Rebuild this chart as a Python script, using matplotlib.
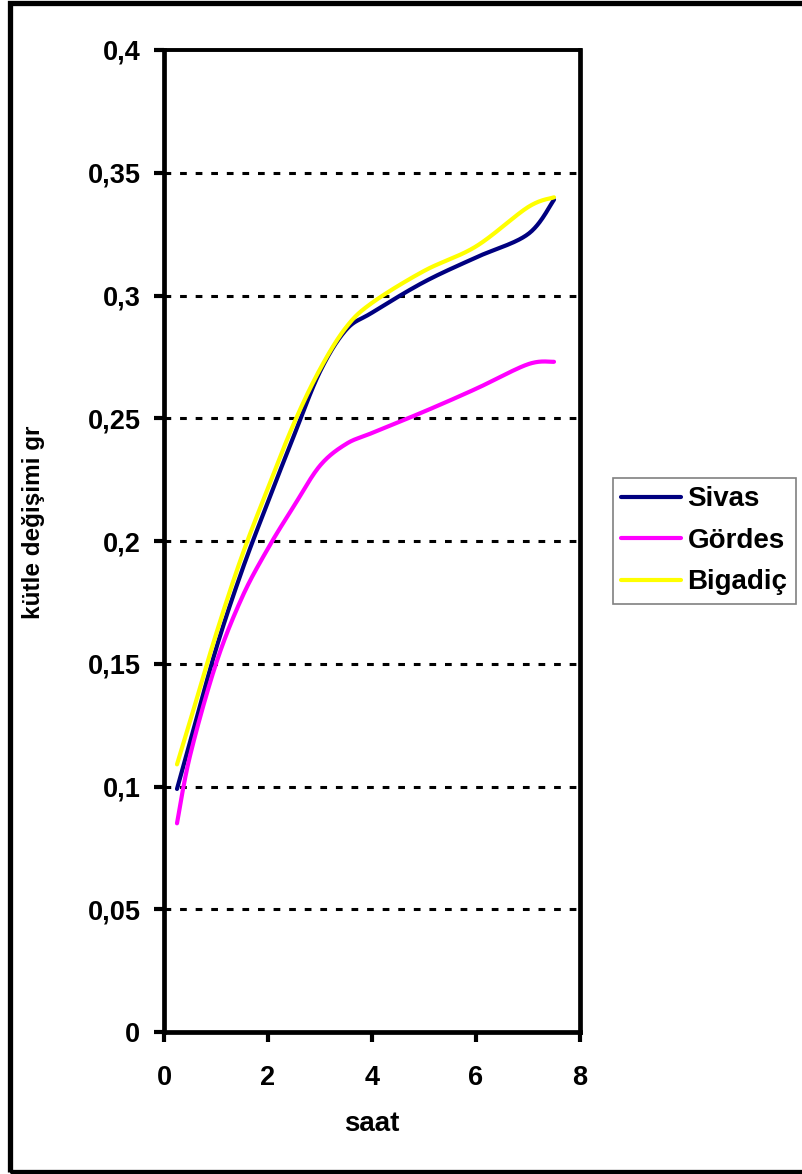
import numpy as np
import matplotlib
matplotlib.use("Agg")
import matplotlib.pyplot as plt
from matplotlib.patches import Rectangle

plt.rcParams['font.family'] = ['Liberation Sans', 'DejaVu Sans']
plt.rcParams['font.weight'] = 'bold'

# Measurements: time (hours) and mass change (g)
saat = [0.25, 0.5, 1, 1.5, 2, 2.5, 3, 3.5, 4, 5, 6, 7, 7.5]
sivas = [0.099, 0.118, 0.156, 0.188, 0.216, 0.243, 0.269, 0.286, 0.293, 0.3055, 0.3155, 0.325, 0.339]
gordes = [0.085, 0.1125, 0.150, 0.177, 0.197, 0.2143, 0.2307, 0.2395, 0.244, 0.2527, 0.262, 0.272, 0.273]
bigadic = [0.109, 0.1265, 0.162, 0.194, 0.2216, 0.248, 0.270, 0.287, 0.297, 0.310, 0.320, 0.336, 0.340]

series_names = ['Sivas', 'Gördes', 'Bigadiç']
series_colors = ['#000080', '#FF00FF', '#FFFF00']

x_ticks = [0, 2, 4, 6, 8]
y_ticks = [0, 0.05, 0.1, 0.15, 0.2, 0.25, 0.3, 0.35, 0.4]
y_tick_labels = ['0', '0,05', '0,1', '0,15', '0,2', '0,25', '0,3', '0,35', '0,4']

XMAX, YMAX = 8, 0.4


def smooth_curve(x, y, sx, sy, n=40):
    """Bezier smoothing through the points (control points from neighbours)."""
    p = np.column_stack([np.asarray(x, float) * sx, np.asarray(y, float) * sy])
    ext = np.vstack([p[0], p, p[-1]])
    out = []
    for i in range(len(p) - 1):
        p0, p1, p2, p3 = ext[i], ext[i + 1], ext[i + 2], ext[i + 3]
        c1 = p1 + (p2 - p0) / 6.0
        c2 = p2 - (p3 - p1) / 6.0
        t = np.linspace(0, 1, n)[:, None]
        seg = ((1 - t) ** 3) * p1 + 3 * ((1 - t) ** 2) * t * c1 + 3 * (1 - t) * t ** 2 * c2 + t ** 3 * p2
        out.append(seg if i == 0 else seg[1:])
    out = np.vstack(out)
    return out[:, 0] / sx, out[:, 1] / sy


fig = plt.figure(figsize=(8.03, 11.74), dpi=100)
ax = fig.add_axes([164 / 803, 1 - 1032 / 1174, 416 / 803, 982 / 1174])

# scale used for smoothing: axes size in pixels per data unit
sx, sy = 416 / XMAX, 982 / YMAX
for vals, name, col in zip([sivas, gordes, bigadic], series_names, series_colors):
    xs, ys = smooth_curve(saat, vals, sx, sy)
    ax.plot(xs, ys, color=col, lw=3.0, label=name, solid_capstyle='round', solid_joinstyle='round')

ax.set_xlim(0, XMAX)
ax.set_ylim(0, YMAX)
ax.set_xticks(x_ticks)
ax.set_xticklabels([str(v) for v in x_ticks])
ax.set_yticks(y_ticks)
ax.set_yticklabels(y_tick_labels)

for yv in y_ticks[1:-1]:
    ax.axhline(yv, color='black', lw=2.2, linestyle=(0, (2.2, 2.9)), dash_capstyle='butt', zorder=0.5)

for side in ['left', 'bottom', 'right', 'top']:
    ax.spines[side].set_linewidth(3.4)
    ax.spines[side].set_color('black')
ax.spines['top'].set_linewidth(2.8)

ax.tick_params(axis='both', direction='out', length=7, width=3, color='black',
               labelsize=19.5)
ax.tick_params(axis='y', pad=10)
ax.tick_params(axis='x', pad=17)
for lab in ax.get_xticklabels() + ax.get_yticklabels():
    lab.set_fontweight('bold')

ax.set_xlabel('saat', fontsize=20, fontweight='bold')
ax.xaxis.set_label_coords(0.5, (1032 - 1124) / 982)
ax.xaxis.label.set_verticalalignment('center')
ax.set_ylabel('kütle değişimi gr', fontsize=17.5, fontweight='bold')
ax.yaxis.set_label_coords((33 - 164) / 416, (1032 - 522) / 982)
ax.yaxis.label.set_verticalalignment('center')

leg = fig.legend(loc='upper left', bbox_to_anchor=(613 / 803, 1 - 478 / 1174),
                 frameon=True, fancybox=False, shadow=False, framealpha=1,
                 edgecolor='#808080', handlelength=2.16, handletextpad=0.22,
                 labelspacing=0.56, borderpad=0.3, borderaxespad=0,
                 prop={'family': ['Liberation Sans', 'DejaVu Sans'], 'weight': 'bold', 'size': 20})
leg.get_frame().set_linewidth(1.2)
for h in leg.get_lines():
    h.set_linewidth(3.0)

# outer frame of the chart area
fig.patches.append(Rectangle((10.5 / 803, 2.5 / 1174), 1.1, 1169 / 1174,
                             transform=fig.transFigure, fill=False,
                             edgecolor='black', lw=3.8, clip_on=False))

fig.savefig('out.png', dpi=100)
